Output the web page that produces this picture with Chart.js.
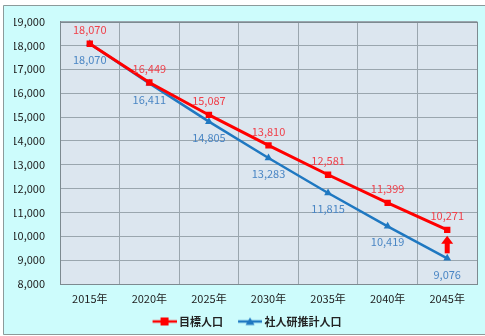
<!DOCTYPE html>
<html>
<head>
<meta charset="utf-8">
<script src="https://cdn.jsdelivr.net/npm/chart.js@4/dist/chart.umd.min.js"></script>
<style>
  html, body { margin: 0; padding: 0; background: #ffffff; }
  #wrap { width: 485px; height: 336px; }
</style>
</head>
<body>
<div id="wrap"><canvas id="c" width="485" height="336"></canvas></div>
<script>
// 年次
const years = ['2015年', '2020年', '2025年', '2030年', '2035年', '2040年', '2045年'];
// 目標人口
const targetPop = [18070, 16449, 15087, 13810, 12581, 11399, 10271];
// 社人研推計人口
const ipssPop = [18070, 16411, 14805, 13283, 11815, 10419, 9076];
// 縦軸の範囲
const yMin = 8000;
const yMax = 19000;
const yStep = 1000;

const RED = '#ff0000';
const BLUE = '#1f78c1';
const FONT = '"Noto Sans CJK JP", "Noto Sans", sans-serif';

function fmt(v) { return v.toLocaleString('en-US'); }

// 凡例用の線＋マーカー画像（右寄せで文字との間隔を詰める）
function legendIcon(color, shape) {
  const cv = document.createElement('canvas');
  cv.width = 30; cv.height = 10;
  const g = cv.getContext('2d');
  g.strokeStyle = color; g.lineWidth = 2.5;
  g.beginPath(); g.moveTo(6, 5); g.lineTo(30, 5); g.stroke();
  g.fillStyle = color;
  if (shape === 'rect') {
    g.fillRect(14, 1, 8, 8);
  } else {
    g.beginPath(); g.moveTo(18, 1); g.lineTo(22.5, 8.5); g.lineTo(13.5, 8.5); g.closePath(); g.fill();
  }
  return cv;
}

const frame = {
  id: 'frame',
  beforeDraw(chart) {
    const ctx = chart.ctx;
    const a = chart.chartArea;
    ctx.save();
    ctx.fillStyle = '#cdfcfc';
    ctx.fillRect(3, 5, 482, 330);
    ctx.strokeStyle = '#8c9a9a';
    ctx.lineWidth = 1;
    ctx.beginPath();
    ctx.moveTo(3.5, 334.5); ctx.lineTo(3.5, 5.5); ctx.lineTo(485, 5.5);
    ctx.moveTo(3.5, 334.5); ctx.lineTo(485, 334.5);
    ctx.stroke();
    ctx.fillStyle = '#dce6ef';
    ctx.fillRect(a.left, a.top, a.right - a.left, a.bottom - a.top);
    ctx.restore();
  },
  afterDraw(chart) {
    const ctx = chart.ctx;
    const a = chart.chartArea;
    ctx.save();
    ctx.strokeStyle = '#7d8a90';
    ctx.lineWidth = 1;
    ctx.strokeRect(Math.round(a.left) + 0.5, Math.round(a.top) + 0.5,
      Math.round(a.right - a.left), Math.round(a.bottom - a.top));
    ctx.restore();
  }
};

// 値ラベル（目標人口は上、推計人口は下）
const valueLabels = {
  id: 'valueLabels',
  afterDatasetsDraw(chart) {
    const ctx = chart.ctx;
    ctx.save();
    ctx.font = '11px ' + FONT;
    ctx.textAlign = 'center';
    ctx.textBaseline = 'middle';
    chart.data.datasets.forEach((ds, i) => {
      const meta = chart.getDatasetMeta(i);
      meta.data.forEach((pt, j) => {
        ctx.fillStyle = i === 0 ? '#f0404a' : '#4a86c4';
        const dy = i === 0 ? -14 : 16;
        ctx.fillText(fmt(ds.data[j]), pt.x, pt.y + dy);
      });
    });
    ctx.restore();
  }
};

// 2045年の差を示す矢印
const gapArrow = {
  id: 'gapArrow',
  afterDatasetsDraw(chart) {
    const last = years.length - 1;
    const xs = chart.scales.x, ys = chart.scales.y;
    const x = xs.getPixelForValue(last);
    const yTop = ys.getPixelForValue(targetPop[last]) + 6;
    const yBot = ys.getPixelForValue(ipssPop[last]) - 5;
    const ctx = chart.ctx;
    ctx.save();
    ctx.fillStyle = RED;
    ctx.fillRect(x - 2.5, yTop + 7, 5, yBot - yTop - 7);
    ctx.beginPath();
    ctx.moveTo(x, yTop);
    ctx.lineTo(x + 6, yTop + 8);
    ctx.lineTo(x - 6, yTop + 8);
    ctx.closePath();
    ctx.fill();
    ctx.restore();
  }
};

new Chart(document.getElementById('c'), {
  type: 'line',
  data: {
    labels: years,
    datasets: [
      {
        label: '目標人口',
        data: targetPop,
        borderColor: RED,
        backgroundColor: RED,
        borderWidth: 3,
        pointStyle: 'rect',
        pointRadius: 4.5,
        pointBorderWidth: 0,
        tension: 0
      },
      {
        label: '社人研推計人口',
        data: ipssPop,
        borderColor: BLUE,
        backgroundColor: BLUE,
        borderWidth: 2.5,
        pointStyle: 'triangle',
        pointRadius: 4.5,
        pointBorderWidth: 0,
        tension: 0
      }
    ]
  },
  options: {
    responsive: false,
    animation: false,
    devicePixelRatio: 1,
    layout: { autoPadding: false, padding: { left: 14, top: 19, right: 8, bottom: -1 } },
    plugins: {
      tooltip: { enabled: false },
      legend: {
        position: 'bottom',
        labels: {
          usePointStyle: true,
          pointStyleWidth: 24,
          boxHeight: 10,
          padding: 12,
          color: '#222',
          font: { family: FONT, size: 11, weight: 'bold' },
          generateLabels(chart) {
            return chart.data.datasets.map((ds, i) => ({
              text: ds.label,
              pointStyle: legendIcon(ds.borderColor, i === 0 ? 'rect' : 'triangle'),
              fillStyle: ds.borderColor,
              strokeStyle: ds.borderColor,
              lineWidth: 0,
              hidden: false,
              datasetIndex: i,
              fontColor: '#222'
            }));
          }
        }
      }
    },
    scales: {
      x: {
        offset: true,
        grid: { offset: true, color: '#9aa6ae', drawTicks: false },
        border: { color: '#7d8a90' },
        ticks: { color: '#222', padding: 8, font: { family: FONT, size: 11 } },
        afterFit(s) { s.height = 20; }
      },
      y: {
        min: yMin,
        max: yMax,
        grid: { color: '#9aa6ae', drawTicks: false },
        border: { color: '#7d8a90' },
        ticks: {
          stepSize: yStep,
          color: '#222',
          padding: 15,
          font: { family: FONT, size: 11 },
          callback: v => fmt(v)
        },
        afterFit(s) { s.width = 46; }
      }
    }
  },
  plugins: [frame, valueLabels, gapArrow]
});
</script>
</body>
</html>
